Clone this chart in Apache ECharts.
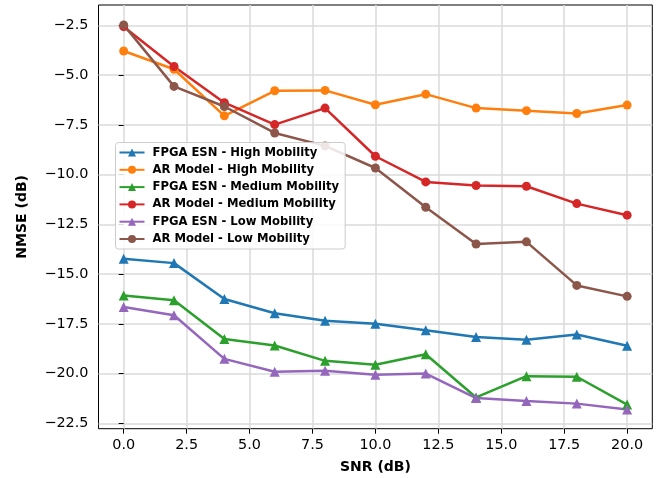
<!DOCTYPE html>
<html>
<head>
<meta charset="utf-8">
<script src="https://cdn.jsdelivr.net/npm/echarts@6/dist/echarts.min.js"></script>
<style>html,body{margin:0;padding:0;background:#fff;}#c{width:656px;height:478px;}</style>
</head>
<body>
<div id="c"></div>
<script>
const snr = [0, 2, 4, 6, 8, 10, 12, 14, 16, 18, 20];
const esnHigh = [-14.23, -14.45, -16.25, -16.97, -17.35, -17.5, -17.82, -18.16, -18.3, -18.04, -18.6];
const arHigh = [-3.79, -4.71, -7.05, -5.79, -5.77, -6.49, -5.96, -6.66, -6.79, -6.93, -6.51];
const esnMed = [-16.08, -16.32, -18.26, -18.59, -19.36, -19.56, -19.03, -21.2, -20.13, -20.16, -21.56];
const arMed = [-2.57, -4.57, -6.39, -7.49, -6.66, -9.08, -10.37, -10.55, -10.59, -11.46, -12.04];
const esnLow = [-16.65, -17.07, -19.26, -19.91, -19.86, -20.06, -20.0, -21.23, -21.38, -21.51, -21.8];
const arLow = [-2.48, -5.57, -6.58, -7.91, -8.56, -9.67, -11.64, -13.49, -13.38, -15.57, -16.12];
const xTicks = [0, 2.5, 5, 7.5, 10, 12.5, 15, 17.5, 20];
const yTicks = [-22.5, -20, -17.5, -15, -12.5, -10, -7.5, -5, -2.5];
const names = ['FPGA ESN - High Mobility', 'AR Model - High Mobility', 'FPGA ESN - Medium Mobility',
  'AR Model - Medium Mobility', 'FPGA ESN - Low Mobility', 'AR Model - Low Mobility'];
const colors = ['#1f77b4', '#ff7f0e', '#2ca02c', '#d62728', '#9467bd', '#8c564b'];
const seriesData = [esnHigh, arHigh, esnMed, arMed, esnLow, arLow];

const fmt = v => (v < 0 ? '\u2212' : '') + Math.abs(v).toFixed(1);
const font = 'DejaVu Sans';

const chart = echarts.init(document.getElementById('c'), null, {renderer: 'canvas'});
chart.setOption({
  animation: false,
  backgroundColor: '#fff',
  color: colors,
  grid: {left: 98.5, right: 3.7, top: 5, bottom: 49.3, show: true, borderColor: '#000', borderWidth: 1,
    containLabel: false, outerBoundsMode: 'none'},
  legend: {
    orient: 'vertical', left: 115.5, top: 142.5,
    itemWidth: 25, itemHeight: 10, itemGap: 5.3,
    padding: [4, 6, 4, 3],
    backgroundColor: 'rgba(255,255,255,0.85)', borderColor: '#cccccc', borderWidth: 1, borderRadius: 3,
    textStyle: {fontFamily: font, fontWeight: 'bold', fontSize: 11.6, color: '#000', lineHeight: 12, padding: [0, 0, 0, 3]},
    data: names
  },
  xAxis: {
    type: 'value', min: -1, max: 21,
    name: 'SNR (dB)', nameLocation: 'middle', nameGap: 32,
    nameTextStyle: {fontFamily: font, fontWeight: 'bold', fontSize: 14, color: '#000'},
    axisLine: {show: false},
    axisTick: {show: true, customValues: xTicks, length: 5, inside: false, lineStyle: {color: '#000', width: 1}},
    axisLabel: {customValues: xTicks, formatter: fmt, fontFamily: font, fontSize: 14.4, color: '#000', margin: 10},
    splitLine: {show: true, lineStyle: {color: '#dadada', width: 1.5}}
  },
  yAxis: {
    type: 'value', min: -22.77, max: -1.48,
    name: 'NMSE (dB)', nameLocation: 'middle', nameGap: 69,
    nameTextStyle: {fontFamily: font, fontWeight: 'bold', fontSize: 14, color: '#000'},
    axisLine: {show: false},
    axisTick: {show: true, customValues: yTicks, length: 5, inside: false, lineStyle: {color: '#000', width: 1}},
    axisLabel: {customValues: yTicks, formatter: fmt, fontFamily: font, fontSize: 14.4, color: '#000', margin: 10},
    splitLine: {show: true, lineStyle: {color: '#dadada', width: 1.5}}
  },
  series: names.map((n, i) => ({
    name: n, type: 'line',
    data: snr.map((x, j) => [x, seriesData[i][j]]),
    symbol: i % 2 === 0 ? 'triangle' : 'circle',
    symbolSize: i % 2 === 0 ? 10 : 9,
    showAllSymbol: true,
    lineStyle: {width: 2.5, color: colors[i]},
    itemStyle: {color: colors[i]},
    emphasis: {disabled: true}
  }))
});
</script>
</body>
</html>
